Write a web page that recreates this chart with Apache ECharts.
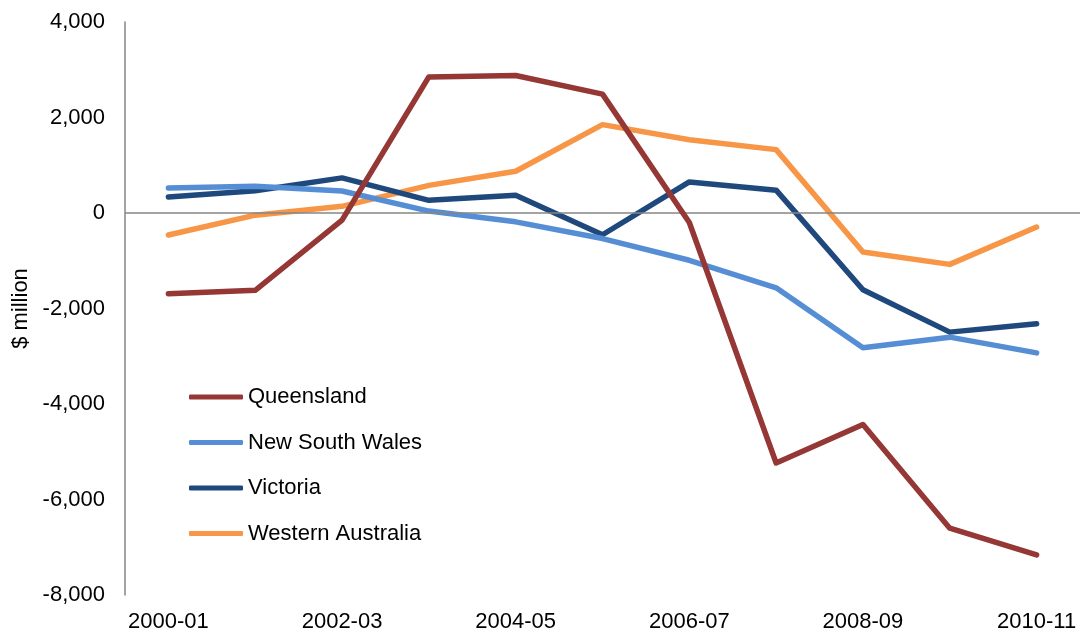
<!DOCTYPE html>
<html lang="en">

<head>
    <title>State balances</title>
    <meta charset="UTF-8">
    <script src="https://cdn.jsdelivr.net/npm/echarts@6/dist/echarts.min.js"></script>
    <style>
        html, body { margin: 0; padding: 0; background: #fff; }
    </style>
</head>

<body>
    <div id="main" style="width: 1083px;height:635px;"></div>
    <script>
        // 数据
        var years = ["2000-01", "2001-02", "2002-03", "2003-04", "2004-05", "2005-06",
            "2006-07", "2007-08", "2008-09", "2009-10", "2010-11"];
        var queensland = [-1690, -1620, -150, 2850, 2880, 2490, -200, -5235, -4430, -6600, -7160];
        var newSouthWales = [525, 560, 460, 40, -185, -535, -990, -1566, -2824, -2600, -2930];
        var victoria = [335, 465, 735, 265, 370, -455, 650, 478, -1608, -2495, -2320];
        var westernAustralia = [-460, -45, 140, 578, 874, 1850, 1535, 1327, -818, -1076, -294];
        var yTicks = [-8000, -6000, -4000, -2000, 0, 2000, 4000];

        var font = "'Liberation Sans', Arial, sans-serif";

        function makeLine(name, data, color, z) {
            return {
                name: name,
                type: 'line',
                data: data,
                z: z,
                symbol: 'none',
                lineStyle: { width: 5.5, color: color, cap: 'round', join: 'round' },
                itemStyle: { color: color }
            };
        }

        var myChart = echarts.init(document.getElementById('main'));
        var series = [
            makeLine('Queensland', queensland, '#953735', 5),
            makeLine('New South Wales', newSouthWales, '#558ED5', 4),
            makeLine('Victoria', victoria, '#1F497D', 3),
            makeLine('Western Australia', westernAustralia, '#F79646', 2)
        ];
        // 零线
        series[3].markLine = {
            silent: true,
            symbol: 'none',
            label: { show: false },
            lineStyle: { color: '#868686', width: 1.5, type: 'solid' },
            data: [{ yAxis: 0 }]
        };

        var option = {
            animation: false,
            grid: { left: 125, right: 3, top: 22, bottom: 40, outerBoundsMode: 'none' },
            legend: {
                orient: 'vertical',
                left: 189,
                top: 386,
                padding: 0,
                icon: 'roundRect',
                itemWidth: 54,
                itemHeight: 5,
                itemGap: 23.5,
                textStyle: { fontFamily: font, fontSize: 22, color: '#000' },
                data: ['Queensland', 'New South Wales', 'Victoria', 'Western Australia']
            },
            xAxis: {
                type: 'category',
                data: years,
                boundaryGap: true,
                axisLine: { show: false },
                axisTick: { show: false },
                axisLabel: {
                    interval: 1,
                    margin: 16,
                    color: '#000',
                    fontFamily: font,
                    fontSize: 22
                }
            },
            yAxis: {
                type: 'value',
                min: yTicks[0],
                max: yTicks[yTicks.length - 1],
                interval: 2000,
                name: '$ million',
                nameLocation: 'middle',
                nameRotate: 90,
                nameGap: 91,
                nameTextStyle: { fontFamily: font, fontSize: 22, color: '#000' },
                axisLine: { show: true, lineStyle: { color: '#868686', width: 1.5 } },
                axisTick: { show: false },
                splitLine: { show: false },
                axisLabel: {
                    margin: 20,
                    color: '#000',
                    fontFamily: font,
                    fontSize: 22,
                    formatter: function (v) { return v.toLocaleString('en-US'); }
                }
            },
            series: series
        };
        myChart.setOption(option);
    </script>
</body>

</html>
